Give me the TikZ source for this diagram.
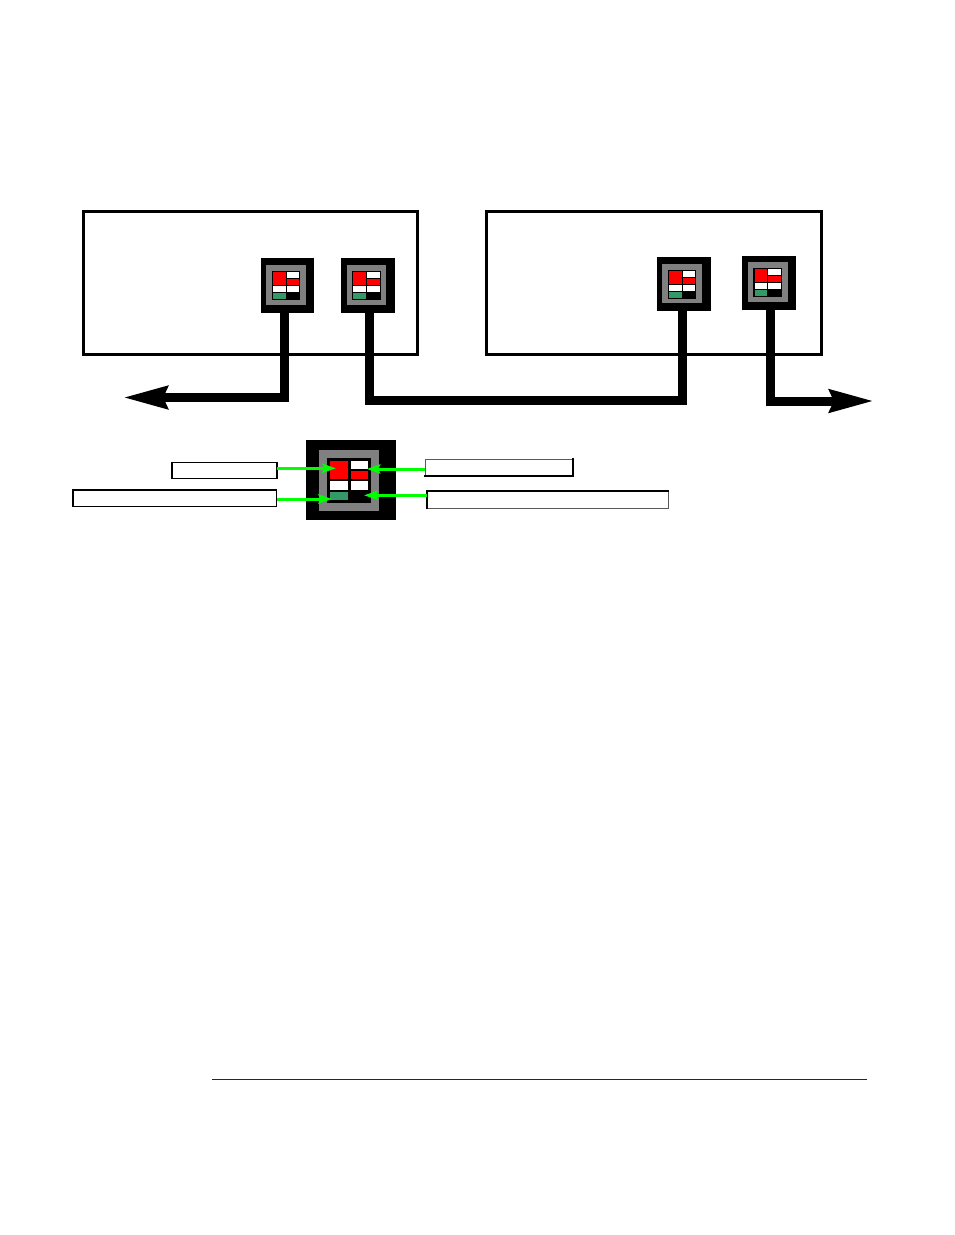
\documentclass[tikz,border=0pt]{standalone}
\usetikzlibrary{arrows.meta}
\definecolor{modgray}{RGB}{128,128,128}
\definecolor{modred}{RGB}{255,0,0}
\definecolor{modgreen}{RGB}{51,153,102}
\definecolor{ptrgreen}{RGB}{0,255,0}
\tikzset{
  bx/.style={inner sep=0pt,outer sep=0pt,anchor=north west,rectangle},
  hostbox/.style={bx,draw=black,line width=3pt,fill=white},
  labelbox/.style={bx,draw=black,line width=1.3pt,fill=white},
  softbox/.style={bx,draw=black!65,line width=1pt,fill=white},
  heavyedge/.style={draw=black,line width=1.8pt,line cap=rect},
  outerblk/.style={bx,fill=black},
  graypart/.style={bx,fill=modgray},
  innerblk/.style={bx,fill=black},
  redcell/.style={bx,fill=modred},
  whitecell/.style={bx,fill=white},
  greencell/.style={bx,fill=modgreen},
  busline/.style={draw=black,line width=9pt,line join=miter},
  bigtip/.style={-{Stealth[length=44pt,width=22pt,inset=4pt]}},
  greenptr/.style={draw=ptrgreen,line width=3pt,-{Stealth[length=13.5pt,width=9pt,inset=2pt]}},
  rulel/.style={draw=black!85,line width=0.8pt}
}
% \rbox{style}{name}{x0}{y0}{x1}{y1}
\newcommand{\rbox}[6]{%
  \pgfmathsetmacro{\rw}{#5-#3}\pgfmathsetmacro{\rh}{#6-#4}%
  \node[#1,minimum width=\rw pt,minimum height=\rh pt] (#2) at (#3,#4) {};}
% \modcells{prefix}{x0}{y0}{x1}{y1}{pad}{colgap}{rowgap}
\newcommand{\modcells}[8]{%
  \pgfmathsetmacro{\cw}{(#4-#2-2*#6-#7)/2}%
  \pgfmathsetmacro{\ch}{(#5-#3-2*#6-3*#8)/4}%
  \pgfmathsetmacro{\xa}{#2+#6}\pgfmathsetmacro{\xb}{\xa+\cw}%
  \pgfmathsetmacro{\xc}{\xb+#7}\pgfmathsetmacro{\xd}{\xc+\cw}%
  \pgfmathsetmacro{\ya}{#3+#6}\pgfmathsetmacro{\yb}{\ya+\ch}%
  \pgfmathsetmacro{\yc}{\yb+#8}\pgfmathsetmacro{\yd}{\yc+\ch}%
  \pgfmathsetmacro{\ye}{\yd+#8}\pgfmathsetmacro{\yf}{\ye+\ch}%
  \pgfmathsetmacro{\yg}{\yf+#8}\pgfmathsetmacro{\yh}{\yg+\ch}%
  \rbox{redcell}{#1r}{\xa}{\ya}{\xb}{\yd}%
  \rbox{whitecell}{#1w}{\xc}{\ya}{\xd}{\yb}%
  \rbox{redcell}{#1s}{\xc}{\yc}{\xd}{\yd}%
  \rbox{whitecell}{#1u}{\xa}{\ye}{\xb}{\yf}%
  \rbox{whitecell}{#1v}{\xc}{\ye}{\xd}{\yf}%
  \rbox{greencell}{#1g}{\xa}{\yg}{\xb}{\yh}%
}
\begin{document}
\begin{tikzpicture}[x=1pt,y=-1pt]
\useasboundingbox[fill=white] (0,0) rectangle (954,1235);
% hosts
\rbox{hostbox}{hostL}{83}{211}{417.7}{354.6}
\rbox{hostbox}{hostR}{486.5}{211}{821.3}{354.6}
% modules
\rbox{outerblk}{m1}{261}{258}{314}{313}
\rbox{graypart}{m1g}{266}{265}{306}{305}
\rbox{innerblk}{m1i}{272}{271}{300}{300}
\modcells{m1c}{272}{271}{300}{300}{1}{1}{1}
\rbox{outerblk}{m2}{341}{258}{395}{313}
\rbox{graypart}{m2g}{347}{265}{386}{305}
\rbox{innerblk}{m2i}{352}{271}{381}{300}
\modcells{m2c}{352}{271}{381}{300}{1}{1}{1}
\rbox{outerblk}{m3}{657}{257}{711}{311}
\rbox{graypart}{m3g}{662}{264}{702}{303}
\rbox{innerblk}{m3i}{668}{270}{696}{299}
\modcells{m3c}{668}{270}{696}{299}{1}{1}{1}
\rbox{outerblk}{m4}{742}{256}{796}{310}
\rbox{graypart}{m4g}{748}{262}{788}{302}
\rbox{innerblk}{m4i}{753}{268}{782}{297}
\modcells{m4c}{753.5}{268}{781.5}{297}{1}{1}{1}
% buses
\coordinate (e1) at (284.5,397.5);
\coordinate (tipL) at (123,397.5);
\coordinate (e2) at (369.7,400);
\coordinate (e3) at (682,400);
\coordinate (e4) at (770.5,401);
\coordinate (tipR) at (874,401);
\draw[busline,bigtip] (e1 |- m1.south) -- (e1) -- (tipL);
\draw[busline] (e2 |- m2.south) -- (e2) -- (e3) -- (e3 |- m3.south);
\draw[busline,bigtip] (e4 |- m4.south) -- (e4) -- (tipR);
% enlarged module
\rbox{outerblk}{big}{306}{440}{396}{520}
\rbox{graypart}{bigg}{319}{450}{379}{510.7}
\rbox{innerblk}{bigi}{327}{458}{371}{502.7}
\modcells{bigc}{327}{458}{371}{502.7}{3}{3}{2}
% label boxes
\rbox{labelbox}{la}{172}{462.3}{277}{478.3}
\rbox{labelbox}{lb}{73}{490}{276.5}{506.3}
\rbox{softbox}{lc}{425}{459}{573}{475.8}
\rbox{softbox}{ld}{427}{491.3}{668}{508.3}
\draw[heavyedge] (lc.south west) -- (lc.south east) -- (lc.north east);
\draw[heavyedge] (ld.south west) -- (ld.north west) -- (ld.north east);
% pointers
\coordinate (pa) at (336,468.3);
\coordinate (pb) at (332,499);
\coordinate (pc) at (366.7,469);
\coordinate (pd) at (364,495.3);
\draw[greenptr] (pa -| la.east) -- (pa);
\draw[greenptr] (pb -| lb.east) -- (pb);
\draw[greenptr] (pc -| lc.west) -- (pc);
\draw[greenptr] (pd -| ld.west) -- (pd);
% rule
\coordinate (ra) at (212,1079);
\coordinate (rb) at (867,1079);
\draw[rulel] (ra) -- (rb);
\end{tikzpicture}
\end{document}
